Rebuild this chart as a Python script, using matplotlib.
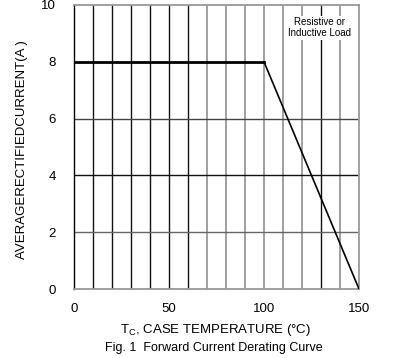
import matplotlib
matplotlib.use("Agg")
import matplotlib.pyplot as plt

plt.rcParams['font.family'] = ['Liberation Sans', 'DejaVu Sans']

temp = [0, 100, 150]
current = [8, 8, 0]
xticks = [0, 50, 100, 150]
yticks = [0, 2, 4, 6, 8, 10]
vgrid = list(range(10, 150, 10))

W, H = 399, 358
fig = plt.figure(figsize=(W / 100, H / 100), dpi=100)
ax = fig.add_axes([74 / W, 1 - 289 / H, (359 - 74) / W, (289 - 5) / H])
ax.set_xlim(0, 150)
ax.set_ylim(0, 10)

for x in vgrid:
    c = '#111111' if (x <= 60 or x == 130) else '#999999'
    ax.axvline(x, color=c, lw=1.3 if c != '#111111' else 1.0, zorder=1)
for y, c in [(2, '#666666'), (4, '#111111'), (6, '#444444')]:
    ax.axhline(y, color=c, lw=1.0, zorder=1)

ax.plot(temp[:2], current[:2], color='black', lw=2.0, zorder=3)
ax.plot(temp[1:], current[1:], color='black', lw=1.2, zorder=3)

for s in ['top', 'right', 'bottom']:
    ax.spines[s].set_color('#999999')
    ax.spines[s].set_linewidth(1.3)
ax.spines['left'].set_color('black')
ax.spines['left'].set_linewidth(1.0)

ax.set_xticks(xticks)
ax.set_yticks(yticks)
ax.tick_params(length=0, labelsize=9.5, pad=10)
ax.tick_params(axis='y', pad=13)

ax.text(129, 9.2, 'Resistive or\nInductive Load', fontsize=7, ha='center', va='center',
        linespacing=1.15, zorder=4,
        bbox=dict(facecolor='white', edgecolor='none', pad=1))

fig.text(216 / W, 1 - 330 / H, r'T$_\mathregular{C}$, CASE TEMPERATURE (°C)', fontsize=9.5,
         ha='center', va='center')
fig.text(214 / W, 1 - 348 / H, 'Fig. 1  Forward Current Derating Curve', fontsize=9,
         ha='center', va='center')
fig.text(22 / W, 1 - 150 / H, 'AVERAGERECTIFIEDCURRENT(A )', fontsize=9.5, rotation=90,
         ha='center', va='center')

fig.savefig('out.png', dpi=100)
